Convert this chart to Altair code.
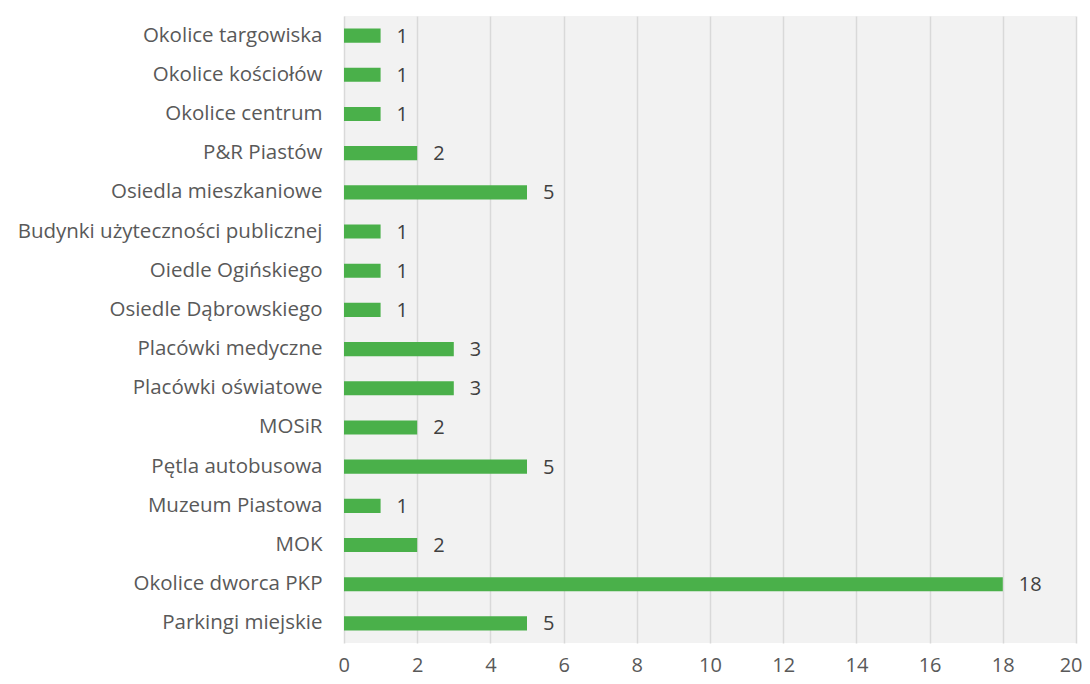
import altair as alt
import pandas as pd

categories = [
    "Okolice targowiska", "Okolice kościołów", "Okolice centrum", "P&R Piastów",
    "Osiedla mieszkaniowe", "Budynki użyteczności publicznej", "Oiedle Ogińskiego",
    "Osiedle Dąbrowskiego", "Placówki medyczne", "Placówki oświatowe", "MOSiR",
    "Pętla autobusowa", "Muzeum Piastowa", "MOK", "Okolice dworca PKP", "Parkingi miejskie",
]
values = [1, 1, 1, 2, 5, 1, 1, 1, 3, 3, 2, 5, 1, 2, 18, 5]
x_ticks = list(range(0, 21, 2))

df = pd.DataFrame({"cat": categories, "val": values})
FONT = "Open Sans"

base = alt.Chart(df).encode(
    y=alt.Y("cat:N", sort=categories, title=None,
            scale=alt.Scale(paddingInner=0.64, paddingOuter=0.32),
            axis=alt.Axis(ticks=False, domain=False, labelPadding=22, labelFontSize=20.5,
                          labelFont=FONT, labelColor="#595959", labelLimit=400, grid=False)),
)

bars = base.mark_bar(color="#4AB04A").encode(
    x=alt.X("val:Q", title=None,
            scale=alt.Scale(domain=[0, 20], nice=False),
            axis=alt.Axis(values=x_ticks, ticks=False, domain=False, grid=True,
                          gridColor="#D9D9D9", gridWidth=1.5, labelPadding=12,
                          labelFlush=True, labelFlushOffset=6,
                          labelFontSize=20, labelFont=FONT, labelColor="#595959")),
)

labels = base.mark_text(align="left", baseline="middle", dx=16, dy=1, fontSize=20,
                        font=FONT, color="#404040").encode(
    x="val:Q", text="val:Q")

chart = (bars + labels).properties(
    width=732, height=627,
    autosize=alt.AutoSizeParams(type="none"),
    padding={"left": 336, "top": 8, "right": 6, "bottom": 33},
    background="white",
).configure_view(stroke=None, fill="#F2F2F2")

chart.save("out.html", embed_options={"renderer": "svg", "actions": False})
